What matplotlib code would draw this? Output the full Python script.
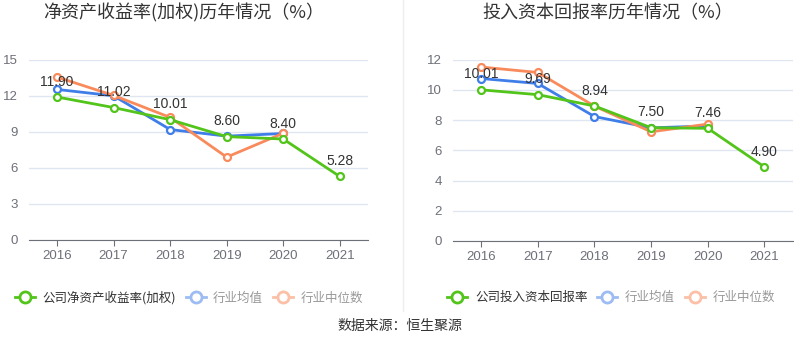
import matplotlib
matplotlib.use("Agg")
import matplotlib.pyplot as plt
from matplotlib.lines import Line2D

plt.rcParams['font.family'] = ['Noto Sans CJK SC', 'DejaVu Sans']

years = ['2016', '2017', '2018', '2019', '2020', '2021']

roe_company = [11.90, 11.02, 10.01, 8.60, 8.40, 5.28]
roe_mean = [12.53, 12.00, 9.19, 8.64, 8.86]
roe_median = [13.56, 12.03, 10.20, 6.89, 8.88]

roic_company = [10.01, 9.69, 8.94, 7.50, 7.46, 4.90]
roic_mean = [10.76, 10.43, 8.24, 7.49, 7.62]
roic_median = [11.52, 11.16, 8.93, 7.23, 7.74]

title_left = '净资产收益率(加权)历年情况（%）'
title_right = '投入资本回报率历年情况（%）'
legend_left = ['公司净资产收益率(加权)', '行业均值', '行业中位数']
legend_right = ['公司投入资本回报率', '行业均值', '行业中位数']
source = '数据来源：恒生聚源'

GREEN = '#52c41a'
BLUE = '#3f7de8'
ORANGE = '#f98a5c'
BLUE_L = '#9dbcf3'
ORANGE_L = '#fbc0a6'
NUMFONT = ['Liberation Sans', 'DejaVu Sans']

fig = plt.figure(figsize=(8, 3.58), dpi=100)

def draw(ax, comp, mean, med, yticks, ymax):
    x = list(range(len(years)))
    ax.plot(x[:len(mean)], mean, color=BLUE, lw=2, marker='o', ms=5,
            mfc='white', mew=1.6, zorder=3)
    ax.plot(x[:len(med)], med, color=ORANGE, lw=2, marker='o', ms=5,
            mfc='white', mew=1.6, zorder=4)
    ax.plot(x, comp, color=GREEN, lw=2, marker='o', ms=5,
            mfc='white', mew=1.6, zorder=5)
    for xi, v in zip(x, comp):
        ax.annotate(f'{v:.2f}', (xi, v), xytext=(0, 6), textcoords='offset points',
                    ha='center', va='bottom', fontsize=10, color='#333333',
                    family=NUMFONT, zorder=6)
    ax.set_xlim(-0.5, len(years) - 0.5)
    ax.set_ylim(0, ymax)
    ax.set_xticks(x)
    ax.set_xticklabels(years)
    ax.set_yticks(yticks)
    ax.set_yticklabels([str(t) for t in yticks])
    ax.grid(axis='y', color='#e0e6f1', lw=1)
    ax.set_axisbelow(True)
    for s in ['top', 'right', 'left']:
        ax.spines[s].set_visible(False)
    ax.spines['bottom'].set_color('#6e7079')
    ax.tick_params(axis='y', length=0, colors='#6e7079', labelsize=9.5, pad=8)
    ax.tick_params(axis='x', length=4, color='#6e7079', colors='#6e7079', labelsize=9.5)
    for lab in ax.get_xticklabels() + ax.get_yticklabels():
        lab.set_family(NUMFONT)

ax1 = fig.add_axes([0.036, 0.330, 0.424, 0.503])
draw(ax1, roe_company, roe_mean, roe_median, [0, 3, 6, 9, 12, 15], 15)
ax2 = fig.add_axes([0.566, 0.327, 0.425, 0.506])
draw(ax2, roic_company, roic_mean, roic_median, [0, 2, 4, 6, 8, 10, 12], 12)

fig.text(0.23, 0.963, title_left, ha='center', va='center', fontsize=13, color='#333333')
fig.text(0.76, 0.963, title_right, ha='center', va='center', fontsize=13, color='#333333')

fig.add_artist(Line2D([0.504, 0.504], [0.13, 1.0], color='#eeeeee', lw=1))

def make_legend(labels, x):
    handles = [Line2D([], [], color=c, lw=2, marker='o', ms=8, mfc='white', mew=2)
               for c in [GREEN, BLUE_L, ORANGE_L]]
    leg = fig.legend(handles, labels, loc='center left', bbox_to_anchor=(x, 0.168),
                     ncol=3, frameon=False, fontsize=9, handlelength=1.6,
                     handletextpad=0.6, columnspacing=0.8, borderaxespad=0)
    for t, c in zip(leg.get_texts(), ['#333333', '#999999', '#999999']):
        t.set_color(c)
    return leg

make_legend(legend_left, 0.012)
make_legend(legend_right, 0.553)

fig.text(0.5, 0.09, source, ha='center', va='center', fontsize=10, color='#333333')

fig.savefig('out.png', dpi=100)
